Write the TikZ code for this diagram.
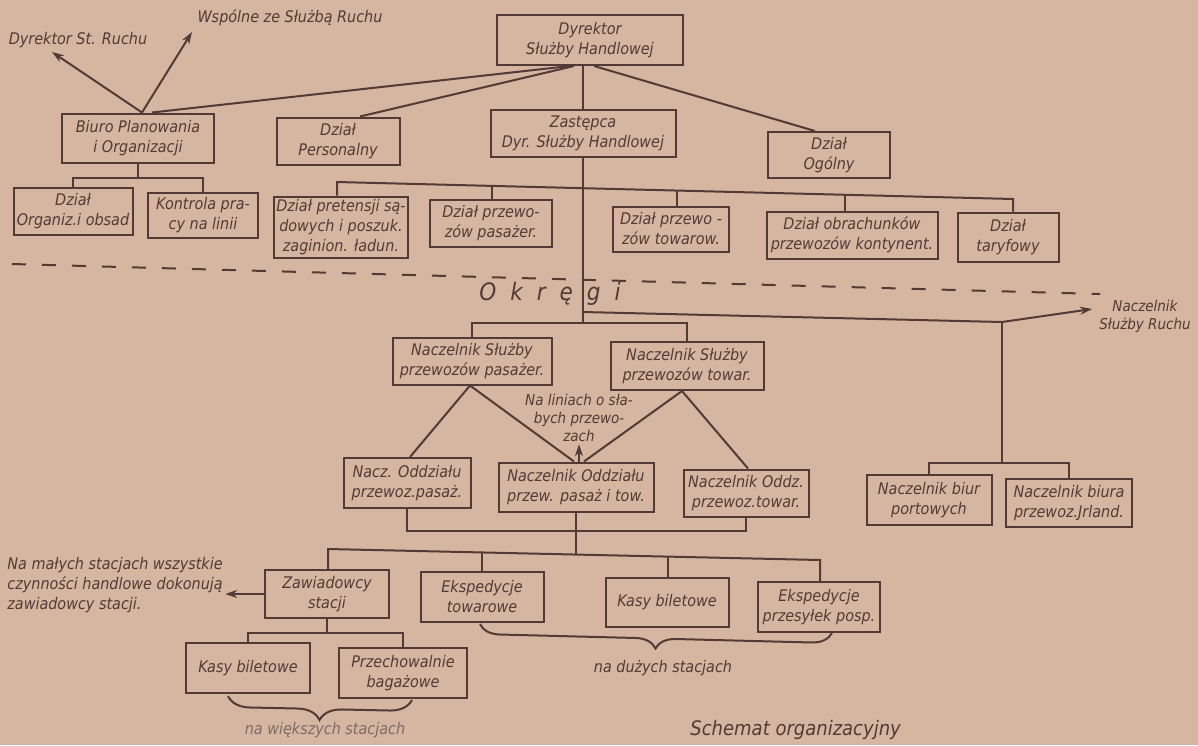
\documentclass[tikz,border=0pt]{standalone}
\usepackage{fontspec}
\setmainfont{DejaVu Sans Condensed}[ItalicFont={DejaVu Sans Condensed Oblique}]
\usetikzlibrary{arrows.meta,decorations.pathreplacing}
\definecolor{paper}{RGB}{214,182,160}
\definecolor{ink}{RGB}{82,58,54}
\begin{document}
\begin{tikzpicture}[x=0.5pt,y=-0.5pt,
  every node/.style={font=\fontsize{8}{10}\selectfont\itshape, text=ink, inner sep=1pt},
  box/.style={draw=ink, line width=1pt, align=center, inner sep=0.5pt},
  wire/.style={draw=ink, line width=1pt},
  arr/.style={wire, -{Stealth[length=6pt,width=4pt]}},
  note/.style={font=\fontsize{7.5}{9}\selectfont\itshape, align=center}]
\fill[paper] (0,0) rectangle (1198,745);
\useasboundingbox (0,0) rectangle (1198,745);
\node[box, minimum width=93pt, minimum height=25pt] (dsh) at (590,40) {Dyrektor\\Służby Handlowej};
\node[box, minimum width=76pt, minimum height=24.5pt] (bpo) at (138,138) {Biuro Planowania\\i Organizacji};
\node[box, minimum width=61.5pt, minimum height=23.5pt] (dp) at (338,141) {Dział\\Personalny};
\node[box, minimum width=92.5pt, minimum height=23.5pt] (zast) at (583,133) {Zastępca\\Dyr. Służby Handlowej};
\node[box, minimum width=61pt, minimum height=23pt] (dog) at (829,155) {Dział\\Ogólny};
\node[box, minimum width=59.5pt, minimum height=23.5pt] (dorg) at (73,211) {Dział\\Organiz.i obsad};
\node[box, minimum width=55pt, minimum height=22.5pt] (kpl) at (203,215) {Kontrola pra-\\cy na linii};
\node[box, minimum width=67pt, minimum height=30.5pt] (dpret) at (341,227) {Dział pretensji są-\\dowych i poszuk.\\zaginion. ładun.};
\node[box, minimum width=61pt, minimum height=23.5pt] (dpas) at (491,223) {Dział przewo-\\zów pasażer.};
\node[box, minimum width=58pt, minimum height=22.5pt] (dtow) at (671,229) {Dział przewo -\\zów towarow.};
\node[box, minimum width=85.5pt, minimum height=23.5pt] (dobr) at (852,235) {Dział obrachunków\\przewozów kontynent.};
\node[box, minimum width=50.5pt, minimum height=24.5pt] (dtar) at (1008,237) {Dział\\taryfowy};
\node[box, minimum width=79.5pt, minimum height=23.5pt] (nsp) at (472,361) {Naczelnik Służby\\przewozów pasażer.};
\node[box, minimum width=76.5pt, minimum height=24pt] (nst) at (687,366) {Naczelnik Służby\\przewozów towar.};
\node[box, minimum width=63.5pt, minimum height=25pt] (nop) at (407,483) {Nacz. Oddziału\\przewoz.pasaż.};
\node[box, minimum width=77.5pt, minimum height=24.5pt] (nopt) at (576,487) {Naczelnik Oddziału\\przew. pasaż i tow.};
\node[box, minimum width=62.5pt, minimum height=23.5pt] (not) at (746,493) {Naczelnik Oddz.\\przewoz.towar.};
\node[box, minimum width=62.5pt, minimum height=25pt] (nbp) at (929,500) {Naczelnik biur\\portowych};
\node[box, minimum width=63pt, minimum height=24pt] (nbi) at (1069,503) {Naczelnik biura\\przewoz.Jrland.};
\node[box, minimum width=62pt, minimum height=24pt] (zaw) at (327,594) {Zawiadowcy\\stacji};
\node[box, minimum width=61.5pt, minimum height=25pt] (ekt) at (482,597) {Ekspedycje\\towarowe};
\node[box, minimum width=61.5pt, minimum height=24.5pt] (kas) at (667,602) {Kasy biletowe};
\node[box, minimum width=61pt, minimum height=25pt] (ekp) at (819,607) {Ekspedycje\\przesyłek posp.};
\node[box, minimum width=62pt, minimum height=25pt] (kas2) at (248,668) {Kasy biletowe};
\node[box, minimum width=64pt, minimum height=25pt] (prz) at (403,673) {Przechowalnie\\bagażowe};
\node (dsr) at (78,40) {Dyrektor St. Ruchu};
\node (wsr) at (290,18) {Wspólne ze Służbą Ruchu};
\node[note] (nsr) at (1145,316) {Naczelnik\\Służby Ruchu};
\node[note] (slabe) at (579,418) {Na liniach o sła-\\bych przewo-\\zach};
\node[align=left, anchor=west] (mala) at (5,585) {Na małych stacjach wszystkie\\czynności handlowe dokonują\\zawiadowcy stacji.};
\node[anchor=base, font=\fontsize{12}{14}\selectfont\itshape] (okregi) at (550,300) {O\hspace{7pt}k\hspace{7pt}r\hspace{7pt}ę\hspace{7pt}g\hspace{7pt}i};
\node[text=ink!75] (wieksze) at (325,730) {na większych stacjach};
\node (duze) at (663,668) {na dużych stacjach};
\node[anchor=south west, font=\fontsize{10}{12}\selectfont\itshape] (schemat) at (688,742) {Schemat organizacyjny};
\coordinate (dsrtip) at (52,52);
\coordinate (wsrtip) at (192,32);
\coordinate (busb) at (0,178);
\coordinate (z1) at (337,182);
\coordinate (z2) at (492,186);
\coordinate (z3) at (677,190.5);
\coordinate (z4) at (845,195);
\coordinate (z5) at (1013,199);
\coordinate (ruch) at (583,312);
\coordinate (okr) at (583,323);
\coordinate (jr) at (1002,322);
\coordinate (nsrtip) at (1092,309);
\coordinate (busr) at (0,463);
\coordinate (bo) at (0,531);
\coordinate (s1) at (328,549);
\coordinate (s2) at (482,552.4);
\coordinate (s3) at (576,554.5);
\coordinate (s4) at (668,556.6);
\coordinate (s5) at (820,560);
\coordinate (bz) at (0,633);
\draw[ink, line width=1pt, dash pattern=on 7pt off 8pt] (12,264) -- (1100,294);
\draw[wire] ([xshift=-10pt]dsh.south) -- ([xshift=7pt]bpo.north);
\draw[wire] ([xshift=-8pt]dsh.south) -- ([xshift=11pt]dp.north);
\draw[wire] (dsh.south -| zast.north) -- (zast.north);
\draw[wire] ([xshift=2pt]dsh.south) -- ([xshift=-7pt]dog.north);
\draw[arr] ([xshift=2pt]bpo.north) -- (dsrtip);
\draw[arr] ([xshift=2pt]bpo.north) -- (wsrtip);
\draw[wire] (bpo.south) -- (bpo.south |- busb);
\draw[wire] (dorg.north) |- (kpl.north |- busb) -- (kpl.north);
\draw[wire] (dpret.north -| z1) -- (z1) -- (z5) -- (dtar.north -| z5);
\draw[wire] (z2) -- (dpas.north -| z2);
\draw[wire] (z3) -- (dtow.north -| z3);
\draw[wire] (z4) -- (dobr.north -| z4);
\draw[wire] (zast.south) -- (okr);
\draw[wire] (nsp.north) |- (nst.north |- okr) -- (nst.north);
\draw[wire] (ruch) -- (jr);
\draw[arr] (jr) -- (nsrtip);
\draw[wire] (jr) -- (jr |- busr);
\draw[wire] (nbp.north) |- (nbi.north |- busr) -- (nbi.north);
\draw[wire] ([xshift=1.5pt]nop.north) -- ([xshift=-1pt]nsp.south) -- ([xshift=-1pt]nopt.north);
\draw[wire] ([xshift=1pt]not.north) -- ([xshift=-2.5pt]nst.south) -- ([xshift=4pt]nopt.north);
\draw[arr] (nopt.north -| slabe.south) -- (slabe.south);
\draw[wire] (nop.south) |- (not.south |- bo) -- (not.south);
\draw[wire] (nopt.south) -- (s3);
\draw[wire] (zaw.north -| s1) -- (s1) -- (s5) -- (ekp.north -| s5);
\draw[wire] (s2) -- (ekt.north -| s2);
\draw[wire] (s4) -- (kas.north -| s4);
\draw[arr] (zaw.west) -- (zaw.west -| mala.east);
\draw[wire] (zaw.south) -- (zaw.south |- bz);
\draw[wire] (kas2.north) |- (prz.north |- bz) -- (prz.north);
\draw[wire, decorate, decoration={brace, mirror, amplitude=11pt}] (228,696) -- (412,700);
\draw[wire, decorate, decoration={brace, mirror, amplitude=10pt}] (480,624) -- (832,633);
\end{tikzpicture}
\end{document}
